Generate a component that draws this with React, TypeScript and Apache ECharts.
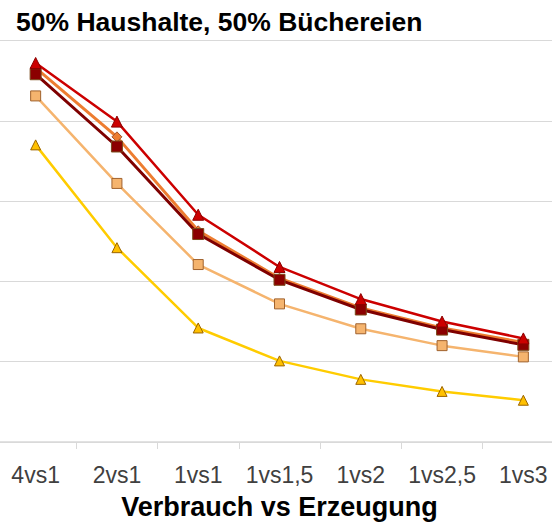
import React, { useEffect, useRef } from "react";
import * as echarts from "echarts";

const categories = ["4vs1", "2vs1", "1vs1", "1vs1,5", "1vs2", "1vs2,5", "1vs3"];
const seriesRed = [4.72, 3.99, 2.83, 2.18, 1.78, 1.5, 1.29];
const seriesOrange = [4.66, 3.8, 2.63, 2.04, 1.67, 1.42, 1.24];
const seriesDarkRed = [4.58, 3.68, 2.59, 2.02, 1.65, 1.4, 1.21];
const seriesLight = [4.31, 3.22, 2.21, 1.72, 1.41, 1.2, 1.06];
const seriesYellow = [3.7, 2.42, 1.42, 1.01, 0.78, 0.63, 0.52];

const FONT = "'Liberation Sans', Arial, sans-serif";

export default function App() {
  const ref = useRef<HTMLDivElement>(null);
  useEffect(() => {
    if (!ref.current) return;
    const chart = echarts.init(ref.current, null, { renderer: "svg" });
    const mk = (
      name: string,
      data: number[],
      color: string,
      symbol: string,
      fill: string,
      border: string,
      width: number,
      size: number,
      z: number
    ) => ({
      name,
      type: "line",
      data,
      symbol,
      symbolSize: size,
      z,
      lineStyle: { color, width },
      itemStyle: { color: fill, borderColor: border, borderWidth: 1 },
    });
    chart.setOption({
      animation: false,
      backgroundColor: "#ffffff",
      textStyle: { fontFamily: FONT },
      title: {
        text: "50% Haushalte, 50% Büchereien",
        left: 21,
        top: 8,
        padding: 0,
        textStyle: { fontSize: 26.5, fontWeight: "bold", color: "#000000", fontFamily: FONT },
      },
      grid: { left: 0, right: 0, top: 40.5, bottom: 79.3, containLabel: false },
      xAxis: {
        type: "category",
        data: categories,
        boundaryGap: true,
        name: "Verbrauch vs Erzeugung",
        nameLocation: "middle",
        nameGap: 51,
        nameTextStyle: { fontSize: 27, fontWeight: "bold", color: "#000000", fontFamily: FONT },
        axisLine: { lineStyle: { color: "#d9d9d9", width: 1.5 } },
        axisTick: { show: true, length: 7, interval: 0, lineStyle: { color: "#d9d9d9" } },
        axisLabel: { fontSize: 23, color: "#404040", margin: 21, interval: 0, fontFamily: FONT },
      },
      yAxis: {
        type: "value",
        min: 0,
        max: 5,
        interval: 1,
        axisLabel: { show: false },
        axisLine: { show: false },
        axisTick: { show: false },
        splitLine: { lineStyle: { color: "#d9d9d9", width: 1 } },
      },
      series: [
        mk("Gelb", seriesYellow, "#FFCC00", "triangle", "#FFC000", "#9C6500", 2.5, 10, 2),
        mk("Hell", seriesLight, "#F5B46E", "rect", "#F5B46E", "#A0622D", 2.5, 10, 3),
        mk("Orange", seriesOrange, "#ED7D31", "diamond", "#ED7D31", "#A0522D", 3, 10, 4),
        mk("Dunkelrot", seriesDarkRed, "#7F0000", "rect", "#8B0000", "#7A4A1A", 3, 11, 5),
        mk("Rot", seriesRed, "#CC0000", "triangle", "#CC0000", "#8B0000", 2.5, 11, 6),
      ],
    });
    return () => chart.dispose();
  }, []);
  return (
    <div style={{ position: "absolute", left: 0, top: 0, width: 552, height: 525, overflow: "hidden" }}>
      <div ref={ref} style={{ width: 569, height: 525, position: "absolute", left: -5, top: 0 }} />
    </div>
  );
}
